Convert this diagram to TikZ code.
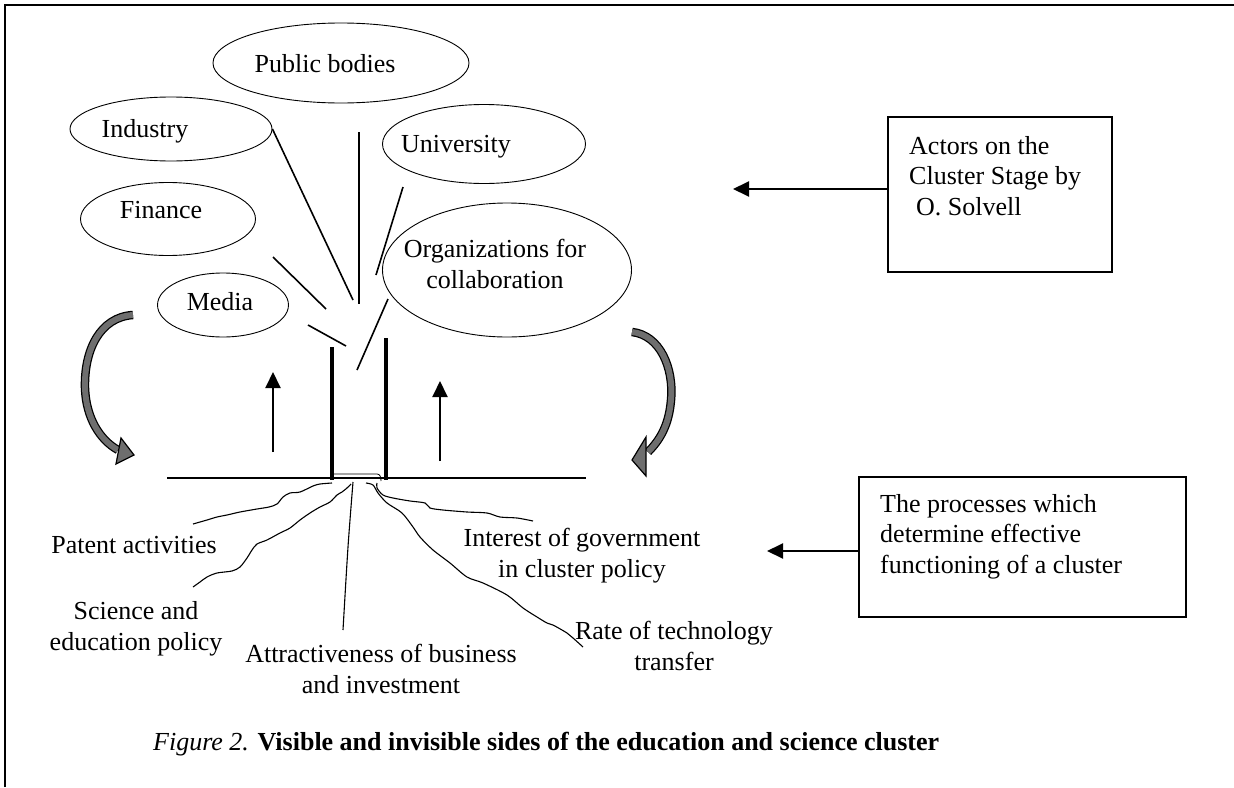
\documentclass[tikz,border=0pt]{standalone}
\usepackage{fontspec}
\setmainfont{Liberation Serif}
\usetikzlibrary{shapes,arrows.meta,positioning}
\definecolor{band}{RGB}{110,110,110}

\begin{document}
\begin{tikzpicture}[x=1pt, y=-1pt,
  actor/.style={ellipse, draw, line width=0.9pt, inner sep=0pt},
  txt/.style={inner sep=0pt, font=\fontsize{26}{30.5}\selectfont},
  box/.style={rectangle, draw, line width=1.8pt, inner sep=0pt},
  spoke/.style={line width=1.6pt},
  root/.style={line width=1.1pt},
  arr/.style={line width=2pt, -{Triangle[width=15pt,length=16pt]}},
  bandout/.style={line width=8.5pt, black},
  bandin/.style={line width=6pt, band},
  bandhead/.style={fill=band, draw=black, line width=1.2pt, line join=miter}]

\useasboundingbox (0,0) rectangle (1234,787);
\draw[line width=2.5pt] (5,787) -- (5,5) -- (1234,5);

\node[actor, minimum width=256, minimum height=80] (pub) at (341,63) {};
\node[actor, minimum width=202, minimum height=64] (industry) at (171,129) {};
\node[actor, minimum width=203, minimum height=79] (univ) at (484,144) {};
\node[actor, minimum width=175, minimum height=73] (finance) at (168,219) {};
\node[actor, minimum width=131, minimum height=64] (media) at (223,305) {};
\node[actor, minimum width=249, minimum height=134] (org) at (507,270) {};

\node[txt, anchor=base] (pubT) at (325,72) {Public bodies};
\node[txt, anchor=base] (industryT) at (145,137) {Industry};
\node[txt, anchor=base] (univT) at (456,152) {University};
\node[txt, anchor=base] (financeT) at (161,218) {Finance};
\node[txt, anchor=base] (mediaT) at (220,310) {Media};
\node[txt, anchor=base, align=center] (orgT) at (495,288) {Organizations for\\collaboration};

\draw[spoke] (industry.east) -- (353,300);
\draw[spoke] (359,132) -- (359,304);
\draw[spoke] (403,187) -- (376,275);
\draw[spoke] (273,257) -- (326,309);
\draw[spoke] (308,325) -- (346,346);
\draw[spoke] (388,299) -- (357,370);

\coordinate (gl) at (167,478);
\coordinate (gr) at (586,478);
\draw[line width=2.7pt] (gl) -- (gr);
\draw[line width=3.3pt] (332,347) -- (332,480);
\draw[line width=3.3pt] (386,338) -- (386,480);
\draw[line width=0.8pt] (333,474) -- (377,474) .. controls (380,474) and (381,477) .. (381,481);

\draw[arr] (273,452) -- (273,372);
\draw[arr] (440,461) -- (440,381);

\draw[bandout] (133,315) .. controls (100,317) and (84,350) .. (85,388) .. controls (86,418) and (100,440) .. (118,450);
\draw[bandin] (133,315) .. controls (100,317) and (84,350) .. (85,388) .. controls (86,418) and (100,440) .. (118,450);
\draw[bandhead] (121,438) -- (134,455) -- (116,464) -- cycle;

\draw[bandout] (632,332) .. controls (660,335) and (674,368) .. (671,400) .. controls (669,425) and (660,440) .. (648,452);
\draw[bandin] (632,332) .. controls (660,335) and (674,368) .. (671,400) .. controls (669,425) and (660,440) .. (648,452);
\draw[bandhead] (646,437) -- (632,460) -- (646,476) -- cycle;

\draw[root] plot[smooth] coordinates {(332,483) (320,484) (313,486) (300,492) (290,493) (283,497) (277,504) (269,507) (257,509) (240,512) (227,515) (217,517) (207,520) (193,524)};
\draw[root] plot[smooth] coordinates {(351,484) (347,488) (342,492) (337,495) (330,502) (320,507) (310,513) (300,520) (290,528) (280,533) (267,540) (257,544) (252,550) (247,558) (240,567) (232,571) (217,573) (207,577) (200,582) (193,587)};
\draw[root] plot[smooth] coordinates {(353,482) (348,547) (343,630)};
\draw[root] plot[smooth] coordinates {(377,483) (377,488) (383,495) (393,498) (410,501) (425,503) (430,508) (443,510) (467,512) (487,513) (500,517) (517,518) (533,521)};
\draw[root] plot[smooth] coordinates {(366,483) (373,485) (378,493) (387,503) (402,513) (413,527) (420,537) (433,550) (450,563) (467,577) (483,583) (507,595) (523,608) (537,617) (547,623) (553,625) (567,633) (573,638) (583,647)};

\node[txt, anchor=base] (patent) at (134,553) {Patent activities};
\node[txt, anchor=base, align=center] (science) at (136,650) {Science and\\education policy};
\node[txt, anchor=base, align=center] (attract) at (381,693) {Attractiveness of business\\and investment};
\node[txt, anchor=base, align=center] (interest) at (582,577) {Interest of government\\in cluster policy};
\node[txt, anchor=base, align=center] (rate) at (674,670) {Rate of technology\\transfer};

\node[box, minimum width=224, minimum height=155] (actors) at (1000,194.5) {};
\node[txt, anchor=base west, align=left] (actorsT) at (909,215) {Actors on the\\Cluster Stage by\\\hspace*{7pt}O. Solvell};
\node[box, minimum width=327, minimum height=140] (proc) at (1022.5,547) {};
\node[txt, anchor=base west, align=left] (procT) at (880,573) {The processes which\\determine effective\\functioning of a cluster};

\coordinate (actTip) at (733,189);
\coordinate (procTip) at (767,551);
\draw[arr] (actors.west |- actTip) -- (actTip);
\draw[arr] (proc.west |- procTip) -- (procTip);

\node[txt, anchor=base west] (caption) at (153,750) {\textit{Figure 2.} \textbf{Visible and invisible sides of the education and science cluster}};
\end{tikzpicture}
\end{document}
